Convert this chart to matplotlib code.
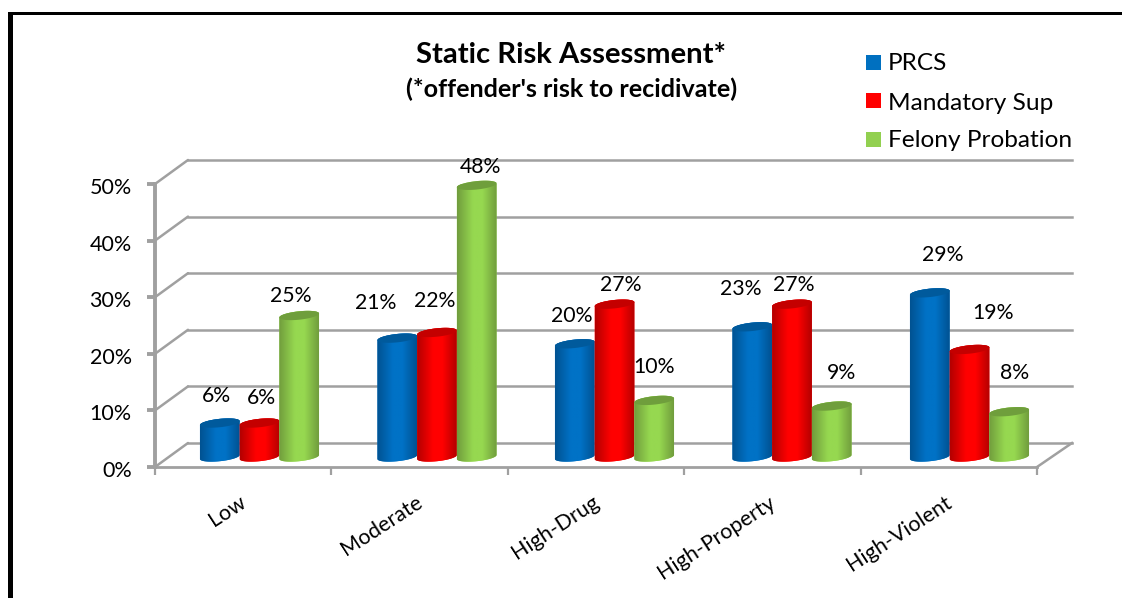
import numpy as np
import matplotlib
matplotlib.use("Agg")
import matplotlib.pyplot as plt
from matplotlib.patches import PathPatch, Rectangle
from matplotlib.path import Path
from matplotlib.colors import to_rgb
from matplotlib.transforms import Affine2D

plt.rcParams['font.family'] = ['Lato', 'DejaVu Sans']

categories = ["Low", "Moderate", "High-Drug", "High-Property", "High-Violent"]
series_names = ["PRCS", "Mandatory Sup", "Felony Probation"]
prcs = [6, 21, 20, 23, 29]
mandatory_sup = [6, 22, 27, 27, 19]
felony_probation = [25, 48, 10, 9, 8]
y_ticks = [0, 10, 20, 30, 40, 50]

# (edge, centre, cap) colour of each cylinder series
series_colors = [("#00508f", "#0072c6", "#005a9c"),
                 ("#b00000", "#ff0000", "#c40000"),
                 ("#6f9a3c", "#96d850", "#6f9e3c")]
legend_colors = ["#0070c0", "#ff0000", "#92d050"]

# Label offsets from the top of each bar, in pixels
label_offsets = [
    [(-3, 27), (-22, 35), (-3, 28), (-12, 38), (13, 38)],
    [(2, 25), (-2, 31), (6, 19), (2, 19), (24, 36)],
    [(-8, 19), (4, 18), (0, 33), (10, 33), (5, 39)],
]

W, H = 1122, 598
fig = plt.figure(figsize=(W / 100, H / 100), dpi=100, facecolor="white")
ax = fig.add_axes([155 / W, 1 - 467 / H, (1037 - 155) / W, (467 - 184) / H])
ax.set_xlim(0, 5)
ax.set_ylim(0, 50)
ax.patch.set_visible(False)

px_x = 5 / (1037 - 155)      # data units per pixel, horizontally
px_y = 50 / (467 - 184)      # data units per pixel, vertically
GRID = "#a0a0a0"

# Frame around the slide
fig.add_artist(Rectangle((8 / W, 0), 5 / W, 1 - 12 / H, transform=fig.transFigure,
                         fc="black", ec="none"))
fig.add_artist(Rectangle((8 / W, 1 - 15 / H), 1 - 8 / W, 3 / H, transform=fig.transFigure,
                         fc="black", ec="none"))

# Back wall, side wall and floor
back_x, back_y = 33 * px_x, 24 * px_y
for t in y_ticks:
    ax.plot([0, back_x], [t, t + back_y], color=GRID, lw=1.8, clip_on=False, zorder=1,
            solid_capstyle="round")
    ax.plot([back_x, 5 + 35 * px_x], [t + back_y] * 2, color=GRID, lw=1.8, clip_on=False,
            zorder=1)
ax.plot([5, 5 + 35 * px_x], [0, back_y], color=GRID, lw=1.8, clip_on=False, zorder=1)

# Front axes
for side in ("top", "right"):
    ax.spines[side].set_visible(False)
for side, width in (("left", 2.8), ("bottom", 2.0)):
    ax.spines[side].set_color(GRID)
    ax.spines[side].set_linewidth(width)
    ax.spines[side].set_zorder(2)
ax.set_yticks(y_ticks, [f"{t}%" for t in y_ticks], fontsize=15.5, color="black")
ax.set_xticks(range(6), [""] * 6)
ax.set_xticks(np.arange(5) + 0.507, categories, minor=True, rotation=33, ha="right",
              va="center", rotation_mode="anchor", fontsize=15.4, color="black")
ax.tick_params(axis="y", which="major", length=5.8, width=2.8, color=GRID, pad=11)
ax.tick_params(axis="x", which="major", length=5.5, width=1.6, color=GRID)
ax.tick_params(axis="x", which="minor", length=0, pad=24)
for label in ax.get_yticklabels():
    label.set_transform(label.get_transform() + Affine2D().translate(0, -2))

# Cylinders
base = 10 * px_y
bar_w = 39.7 * px_x
minor = 4.2 * px_y
tilt = 2.0 * px_y
t_top = np.linspace(np.pi, 0, 40)      # far side of the ellipse, left to right
t_bot = np.linspace(0, -np.pi, 40)     # near side, right to left


def ellipse_pts(cx, cy, t):
    x = cx + bar_w / 2 * np.cos(t)
    y = cy + minor * np.sin(t) + tilt * np.cos(t)
    return x, y


def draw_cylinder(cx, value, colors, z):
    edge, mid, cap = [np.array(to_rgb(c)) for c in colors]
    top = base + value
    xt, yt = ellipse_pts(cx, top, t_top)
    xb, yb = ellipse_pts(cx, base, t_bot)
    verts = np.r_[np.c_[xt, yt], np.c_[xb, yb], [[xt[0], yt[0]]]]
    body = PathPatch(Path(verts, closed=False), fc=mid, ec="none", zorder=z, clip_on=False)
    ax.add_patch(body)
    # Horizontal shading wraps the flat shape into a cylinder
    stops = np.interp(np.linspace(0, 1, 64), [0, 0.42, 0.62, 1], [0, 1, 1, 0])
    stops = np.minimum(stops + 0.05, 1)
    shade = edge + (mid - edge) * stops[:, None]
    im = ax.imshow(shade[None, :, :], extent=(cx - bar_w / 2, cx + bar_w / 2,
                                              base - minor - tilt, top + minor + tilt),
                   aspect="auto", interpolation="bilinear", zorder=z)
    im.set_clip_path(body)
    xc, yc = ellipse_pts(cx, top, np.linspace(0, 2 * np.pi, 80))
    ax.fill(xc, yc, color=cap, ec="none", zorder=z + 0.1, clip_on=False)
    return top


all_values = [prcs, mandatory_sup, felony_probation]
group_x0 = (259.5 - 155) * px_x
group_step = 177.5 * px_x
z = 3
for s, values in enumerate(all_values):
    for i, value in enumerate(values):
        cx = group_x0 + i * group_step + (s - 1) * bar_w
        top = draw_cylinder(cx, value, series_colors[s], z + s)
        dx, dy = label_offsets[s][i]
        ax.annotate(f"{value}%", xy=(cx, top), xytext=(dx, dy), textcoords="offset pixels",
                    ha="center", va="center", fontsize=15.3, color="black", zorder=10,
                    annotation_clip=False)
ax.set_xlim(0, 5)
ax.set_ylim(0, 50)

# Title block
fig.text(571 / W, 1 - 55 / H, "Static Risk Assessment*", ha="center", va="center",
         fontsize=21.1, fontweight="bold")
fig.text(572 / W, 1 - 89 / H, "(*offender's risk to recidivate)", ha="center", va="center",
         fontsize=18.1, fontweight="bold")

# Legend
for name, color, y, text_y in zip(series_names, legend_colors, (62.5, 100.5, 139.5),
                                  (62, 102, 139.5)):
    fig.add_artist(Rectangle((866 / W, 1 - (y + 7.5) / H), 15 / W, 15 / H,
                             transform=fig.transFigure, fc=color, ec="none"))
    fig.text(888 / W, 1 - (text_y + 1) / H, name, ha="left", va="center", fontsize=17.6)

fig.savefig("out.png", dpi=100, facecolor="white")
